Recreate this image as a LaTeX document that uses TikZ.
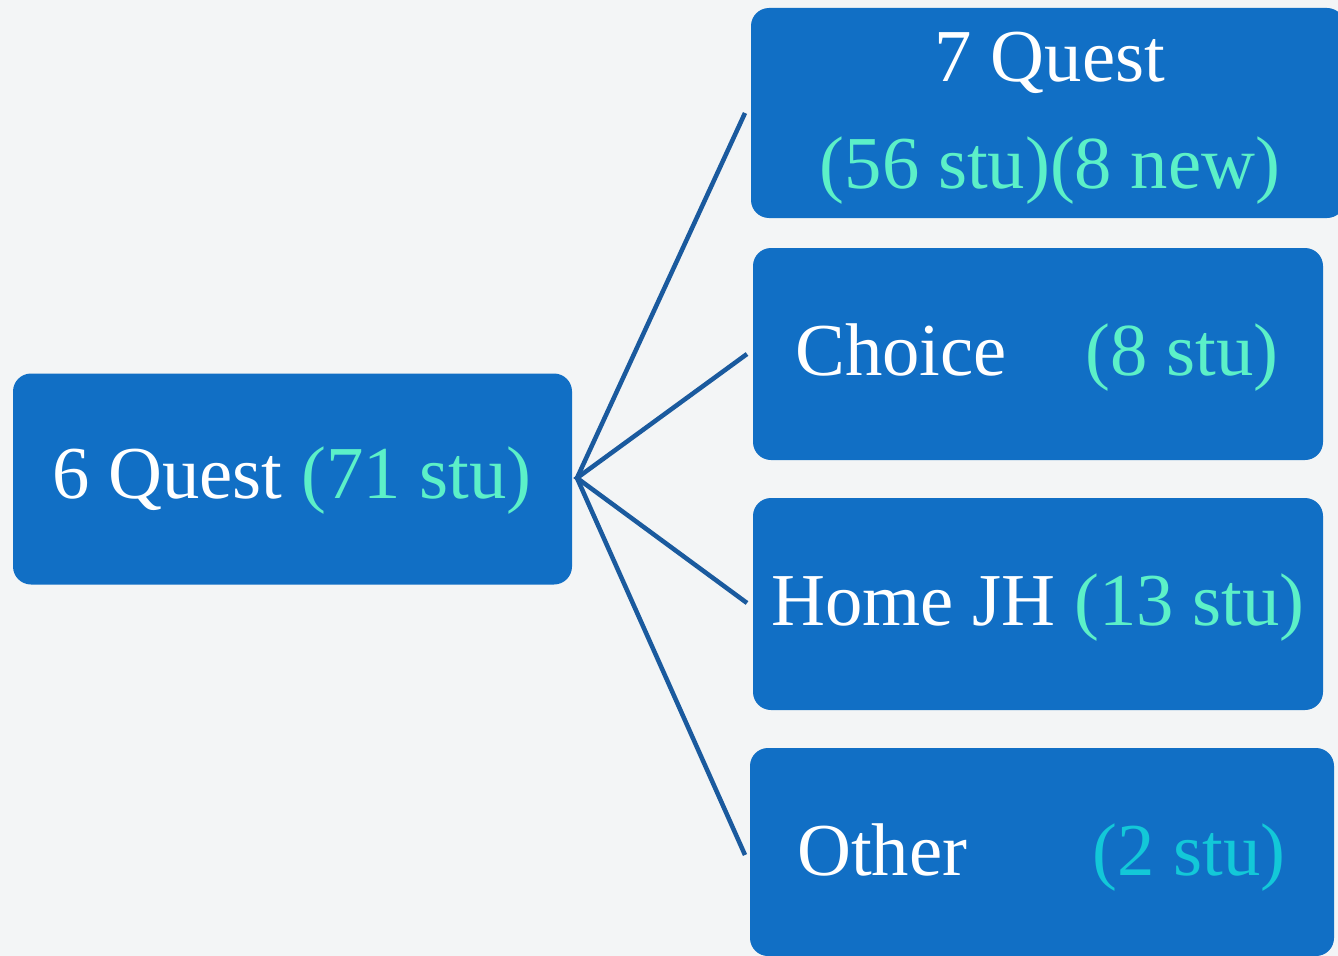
\documentclass[tikz,border=0pt]{standalone}
\usepackage{fontspec}
\setmainfont{Liberation Serif}
\definecolor{bg}{HTML}{F3F5F6}
\definecolor{boxblue}{HTML}{116FC5}
\definecolor{linkblue}{HTML}{1A5A9E}
\definecolor{mint}{HTML}{5CF0C8}
\definecolor{cyanish}{HTML}{13C8D8}
\tikzset{
  bluebox/.style={fill=boxblue, rounded corners=13.5pt, inner sep=0pt, draw=none},
  boxtext/.style={text=white, inner sep=0pt, font=\fontsize{56}{66}\selectfont},
  link/.style={draw=linkblue, line width=3.4pt}
}
\begin{document}
\begin{tikzpicture}[x=0.75pt, y=-0.75pt]
\useasboundingbox (0,0) rectangle (1338,956);
\clip (0,0) rectangle (1338,956);
\fill[bg] (0,0) rectangle (1338,956);
% boxes
\node[bluebox, minimum width=419.25pt, minimum height=158.25pt] (six) at (292.5,479) {};
\node[bluebox, minimum width=445.5pt, minimum height=157.5pt] (seven) at (1048,113) {};
\node[bluebox, minimum width=427.5pt, minimum height=159pt] (choice) at (1038,354) {};
\node[bluebox, minimum width=427.5pt, minimum height=159pt] (home) at (1038,604) {};
\node[bluebox, minimum width=438pt, minimum height=156pt] (other) at (1042,852) {};
% connectors
\coordinate (hub) at (577,478);
\coordinate (e1) at (745,113);
\coordinate (e2) at (747,354);
\coordinate (e3) at (747,603);
\coordinate (e4) at (745,855);
\draw[link] (e1) -- (hub) -- (e4);
\draw[link] (e2) -- (hub) -- (e3);
% texts
\node[boxtext, anchor=base] (t6) at (292,498) {6 Quest \textcolor{mint}{(71 stu)}};
\node[boxtext, anchor=base] (t7a) at (1050,81) {7 Quest};
\node[boxtext, anchor=base, text=mint] (t7b) at (1050,188) {(56 stu)(8 new)};
\node[boxtext, anchor=base west] (tc) at (795,375) {Choice};
\node[boxtext, anchor=base east, text=mint] (tc2) at (1279,375) {(8 stu)};
\node[boxtext, anchor=base] (th) at (1038,625) {Home JH \textcolor{mint}{(13 stu)}};
\node[boxtext, anchor=base west] (to) at (797,875) {Other};
\node[boxtext, anchor=base east, text=cyanish] (to2) at (1286,875) {(2 stu)};
\end{tikzpicture}
\end{document}
